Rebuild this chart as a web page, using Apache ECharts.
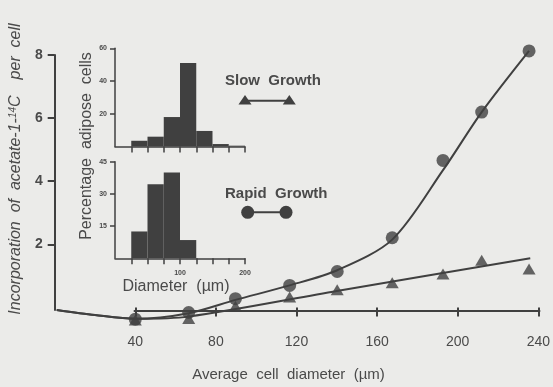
<!DOCTYPE html>
<html>
<head>
<meta charset="utf-8">
<script src="https://cdn.jsdelivr.net/npm/echarts@6/dist/echarts.min.js"></script>
<style>
html,body{margin:0;padding:0;background:#ebebe9;}
#chart{width:553px;height:387px;}
</style>
</head>
<body>
<div id="chart"></div>
<script>
// ---- data ----
const cellDiameter = [40, 66.5, 89.7, 116.6, 140.2, 167.5, 192.7, 211.9, 235.4];
const rapidGrowth  = [-0.37, -0.16, 0.28, 0.70, 1.14, 2.21, 4.66, 6.19, 8.13];
const slowGrowth   = [-0.40, -0.35, 0.04, 0.33, 0.56, 0.78, 1.06, 1.50, 1.22];

const rapidFitX = [1, 20, 40, 66.5, 89.7, 116.6, 140.2, 167.5, 192.7, 211.9, 235.4];
const rapidFitY = [-0.08, -0.24, -0.36, -0.18, 0.24, 0.70, 1.18, 2.15, 4.35, 6.19, 8.13];
const slowFitX  = [1, 20, 40, 66.5, 140, 236];
const slowFitY  = [-0.08, -0.24, -0.36, -0.29, 0.52, 1.56];

const mainXTicks = [40, 80, 120, 160, 200, 240];
const mainYTicks = [2, 4, 6, 8];

const binStart   = [0, 25, 50, 75, 100, 125, 150, 175];
const binWidth   = 25;
const slowHist   = [0, 3.5, 6, 18, 51, 9.5, 1.5, 0.5];
const rapidHist  = [0, 12.5, 34.5, 40, 8.5, 0, 0, 0];
const histXTicks = [25, 50, 75, 100, 125, 150, 175, 200];
const histXLabels = [100, 200];
const slowHistYTicks = [20, 40, 60];
const rapidHistYTicks = [15, 30, 45];

// ---- styles ----
const INK = '#404040';
const TXT = '#4a4a4a';
const FONT = '"Liberation Sans", Arial, sans-serif';

const pairs = (xs, ys) => xs.map((x, i) => [x, ys[i]]);
const histData = vals => binStart.map((s, i) => [s, s + binWidth, vals[i]]);

function histItem(params, api) {
  const p0 = api.coord([api.value(0), api.value(2)]);
  const p1 = api.coord([api.value(1), 0]);
  return {
    type: 'rect',
    shape: { x: p0[0], y: p0[1], width: p1[0] - p0[0], height: p1[1] - p0[1] },
    style: { fill: INK }
  };
}

const chart = echarts.init(document.getElementById('chart'), null, { renderer: 'canvas' });

const option = {
  backgroundColor: '#ebebe9',
  animation: false,
  textStyle: { fontFamily: FONT },
  grid: [
    { left: 53.5, width: 486, top: 55, bottom: 73.7 },           // main
    { left: 134.5, width: 405, top: 55, bottom: 73.7 },          // main x-axis line (40-240)
    { left: 115, width: 130, top: 48.3, height: 98.2 },          // slow histogram
    { left: 115, width: 130, top: 161.7, height: 96.6 }          // rapid histogram
  ],
  xAxis: [
    {
      gridIndex: 0, type: 'value', min: 0, max: 240, offset: 11,
      axisLine: { show: false }, splitLine: { show: false },
      axisTick: { show: true, length: 9, customValues: mainXTicks, lineStyle: { color: INK, width: 2 } },
      axisLabel: { customValues: mainXTicks, margin: 14, color: TXT, fontSize: 14, fontFamily: FONT },
      name: 'Average  cell  diameter  (\u00b5m)', nameLocation: 'middle', nameGap: 46,
      nameTextStyle: { color: TXT, fontSize: 15, fontFamily: FONT, padding: [0, 16, 0, 0] }
    },
    {
      gridIndex: 1, type: 'value', min: 40, max: 240, offset: 11,
      axisLine: { show: true, lineStyle: { color: INK, width: 2 } },
      axisTick: { show: false }, axisLabel: { show: false }, splitLine: { show: false }
    },
    {
      gridIndex: 2, type: 'value', min: 0, max: 200,
      axisLine: { show: true, lineStyle: { color: INK, width: 1.5 } },
      axisTick: { show: true, length: 6, customValues: histXTicks, lineStyle: { color: INK, width: 1.5 } },
      axisLabel: { show: false }, splitLine: { show: false }
    },
    {
      gridIndex: 3, type: 'value', min: 0, max: 200,
      axisLine: { show: true, lineStyle: { color: INK, width: 1.5 } },
      axisTick: { show: true, length: 6, customValues: histXTicks, lineStyle: { color: INK, width: 1.5 } },
      axisLabel: { customValues: histXLabels, margin: 11, color: TXT, fontSize: 7, fontWeight: 'bold', fontFamily: FONT },
      splitLine: { show: false },
      name: 'Diameter  (\u00b5m)', nameLocation: 'middle', nameGap: 20,
      nameTextStyle: { color: TXT, fontSize: 16, fontFamily: FONT, padding: [0, 8, 0, 0] }
    }
  ],
  yAxis: [
    {
      gridIndex: 0, type: 'value', min: -0.08, max: 8,
      axisLine: { show: true, lineStyle: { color: INK, width: 2 } },
      axisTick: { show: true, length: 7, customValues: mainYTicks, lineStyle: { color: INK, width: 2 } },
      axisLabel: { customValues: mainYTicks, margin: 12, color: TXT, fontSize: 14, fontWeight: 'bold', fontFamily: FONT },
      splitLine: { show: false },
      name: 'Incorporation  of  acetate-1-{sup|14}C{gap|}per  cell',
      nameLocation: 'middle', nameRotate: 90, nameGap: 14,
      nameTextStyle: {
        color: TXT, fontSize: 16, fontStyle: 'italic', fontFamily: FONT, padding: [0, 0, 0, 27],
        rich: {
          sup: { fontSize: 10, fontStyle: 'italic', fontFamily: FONT, color: TXT, verticalAlign: 'top' },
          gap: { width: 16 }
        }
      }
    },
    { gridIndex: 1, type: 'value', min: -0.08, max: 8, show: false },
    {
      gridIndex: 2, type: 'value', min: 0, max: 60,
      axisLine: { show: true, lineStyle: { color: INK, width: 1.5 } },
      axisTick: { show: true, length: 5, customValues: slowHistYTicks, lineStyle: { color: INK, width: 1.5 } },
      axisLabel: { customValues: slowHistYTicks, margin: 8, color: TXT, fontSize: 7, fontWeight: 'bold', fontFamily: FONT },
      splitLine: { show: false }
    },
    {
      gridIndex: 3, type: 'value', min: 0, max: 45,
      axisLine: { show: true, lineStyle: { color: INK, width: 1.5 } },
      axisTick: { show: true, length: 5, customValues: rapidHistYTicks, lineStyle: { color: INK, width: 1.5 } },
      axisLabel: { customValues: rapidHistYTicks, margin: 8, color: TXT, fontSize: 7, fontWeight: 'bold', fontFamily: FONT },
      splitLine: { show: false }
    }
  ],
  series: [
    {
      name: 'Rapid Growth fit', type: 'line', xAxisIndex: 0, yAxisIndex: 0,
      data: pairs(rapidFitX, rapidFitY), smooth: 0.3, showSymbol: false,
      clip: false, lineStyle: { color: INK, width: 2 }, z: 2
    },
    {
      name: 'Slow Growth fit', type: 'line', xAxisIndex: 0, yAxisIndex: 0,
      data: pairs(slowFitX, slowFitY), smooth: 0.3, showSymbol: false,
      clip: false, lineStyle: { color: INK, width: 2 }, z: 2
    },
    {
      name: 'Slow Growth', type: 'scatter', xAxisIndex: 0, yAxisIndex: 0,
      data: pairs(cellDiameter, slowGrowth), symbol: 'triangle', symbolSize: [13, 11],
      clip: false, itemStyle: { color: INK }, z: 3
    },
    {
      name: 'Rapid Growth', type: 'scatter', xAxisIndex: 0, yAxisIndex: 0,
      data: pairs(cellDiameter, rapidGrowth), symbol: 'circle', symbolSize: 13,
      clip: false, itemStyle: { color: INK }, z: 4
    },
    {
      name: 'Slow growth histogram', type: 'custom', xAxisIndex: 2, yAxisIndex: 2,
      data: histData(slowHist), renderItem: histItem, encode: { x: [0, 1], y: 2 }
    },
    {
      name: 'Rapid growth histogram', type: 'custom', xAxisIndex: 3, yAxisIndex: 3,
      data: histData(rapidHist), renderItem: histItem, encode: { x: [0, 1], y: 2 }
    }
  ],
  graphic: [
    { type: 'text', x: 87, y: 146, rotation: Math.PI / 2,
      style: { text: 'Percentage  adipose  cells', font: '16px ' + FONT, fill: TXT, align: 'center', verticalAlign: 'middle' } },
    { type: 'text', x: 225, y: 81,
      style: { text: 'Slow  Growth', font: 'bold 15px ' + FONT, fill: TXT, align: 'left', verticalAlign: 'middle' } },
    { type: 'line', shape: { x1: 245, y1: 100.7, x2: 289.3, y2: 100.7 }, style: { stroke: INK, lineWidth: 2 } },
    { type: 'polygon', shape: { points: [[245, 95], [251.5, 104.5], [238.5, 104.5]] }, style: { fill: INK } },
    { type: 'polygon', shape: { points: [[289.3, 95], [295.8, 104.5], [282.8, 104.5]] }, style: { fill: INK } },
    { type: 'text', x: 225, y: 193.5,
      style: { text: 'Rapid  Growth', font: 'bold 15px ' + FONT, fill: TXT, align: 'left', verticalAlign: 'middle' } },
    { type: 'line', shape: { x1: 247.7, y1: 212.3, x2: 286, y2: 212.3 }, style: { stroke: INK, lineWidth: 2 } },
    { type: 'circle', shape: { cx: 247.7, cy: 212.3, r: 6.5 }, style: { fill: INK } },
    { type: 'circle', shape: { cx: 286, cy: 212.3, r: 6.5 }, style: { fill: INK } }
  ]
};

chart.setOption(option);
</script>
</body>
</html>
